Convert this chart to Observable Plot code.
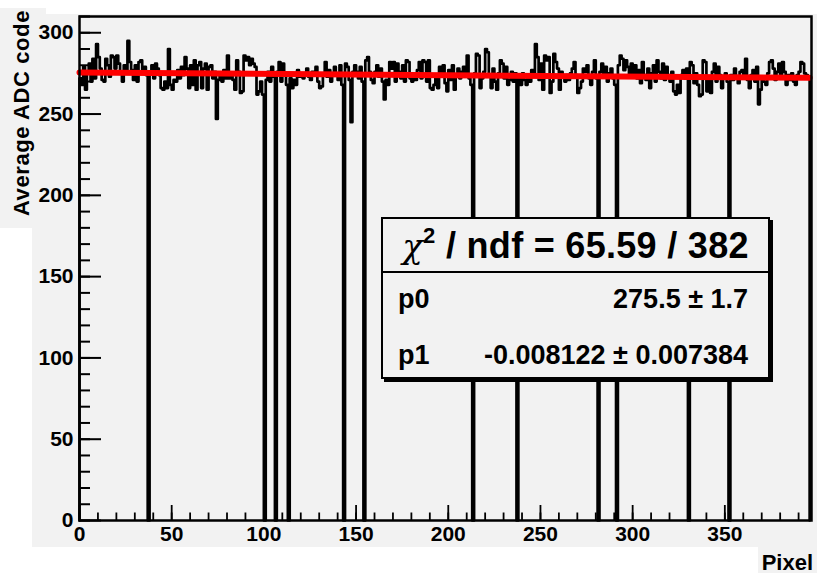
<!DOCTYPE html>
<html>
<head>
<meta charset="utf-8">
<script src="https://cdn.jsdelivr.net/npm/d3@7"></script>
<script src="https://cdn.jsdelivr.net/npm/@observablehq/plot@0.6"></script>
<style>
  html, body { margin: 0; padding: 0; background: #ffffff; }
  #wrap { position: relative; width: 830px; height: 586px; overflow: hidden; font-family: "Liberation Sans", Arial, Helvetica, sans-serif; }
  .bg { position: absolute; background: #f2f2f2; }
  #chart { position: absolute; left: 0; top: 0; }
  .ytitle { position: absolute; left: 9px; top: 224px; width: 214px; line-height: 26px; transform-origin: 0 0; transform: rotate(-90deg);
            text-align: right; font-weight: bold; font-size: 22px; letter-spacing: 0.6px; white-space: nowrap; color: #000; }
  .xtitle { position: absolute; right: 17px; top: 550px; font-weight: bold; font-size: 22px; color: #000; }
  .stats { position: absolute; left: 381px; top: 217px; width: 389px; height: 162px; box-sizing: border-box; border: 2px solid #000;
           background: #f2f2f2; box-shadow: 3px 3px 0 #000; color: #000; }
  .stats .head { height: 52px; border-bottom: 2px solid #000; text-align: center; font-weight: bold; font-size: 36px; line-height: 54px; white-space: nowrap; letter-spacing: 0.3px; }
  .stats .chi { font-weight: normal; font-family: "DejaVu Serif", serif; font-style: italic; font-size: 34px; }
  .stats sup { font-size: 22px; line-height: 0; position: relative; top: -2px; }
  .stats .row { position: absolute; left: 15px; right: 20px; height: 36px; font-weight: bold; font-size: 27px; line-height: 36px; white-space: nowrap; }
  .stats .row .v { position: absolute; right: 0; top: 0; }
</style>
</head>
<body>
<div id="wrap">
  <div class="bg" style="left:32px; top:14px; width:785px; height:533px;"></div>
  <div class="bg" style="left:0px; top:8px; width:46px; height:220px;"></div>
  <div class="bg" style="left:758px; top:547px; width:59px; height:26px;"></div>
  <div id="chart"></div>
  <div class="ytitle">Average ADC code</div>
  <div class="xtitle">Pixel</div>
  <div class="stats" id="stats"></div>
</div>
<script>
// ---- data ----
const adcValues = [
  272,268,279,265,276,281,270,284,272,293,285,278,271,270,284,280,273,286,285,278,
  286,281,275,270,280,276,295,282,277,271,280,270,282,283,276,279,274,0,276,280,
  272,281,278,274,266,265,270,266,290,268,265,271,270,277,272,279,274,285,278,266,
  280,268,283,265,280,282,266,278,281,265,279,280,272,276,247,271,274,270,277,272,
  286,272,274,271,265,283,276,263,264,286,283,285,280,284,281,279,262,264,270,262,
  0,271,276,270,279,273,0,276,282,270,281,274,268,0,272,266,271,268,277,273,
  275,272,274,278,273,271,276,274,279,270,266,267,275,282,273,277,270,275,279,274,
  271,280,268,0,281,279,271,245,276,280,276,272,279,270,0,283,285,276,271,269,
  276,280,273,278,270,259,271,268,282,278,282,270,281,276,272,280,270,283,282,272,
  270,274,271,277,282,272,283,282,270,283,266,265,268,272,266,279,274,280,269,264,
  277,271,280,265,273,278,272,276,279,274,286,272,268,0,275,287,286,266,272,276,
  290,288,274,266,278,270,265,275,283,281,272,279,268,271,276,270,275,0,272,268,
  275,271,268,273,270,277,273,293,285,271,281,265,286,283,285,263,270,287,282,278,
  265,276,273,270,274,271,275,278,282,274,263,266,270,278,276,280,272,268,276,283,
  272,0,276,281,274,279,270,275,278,272,268,0,280,286,284,277,283,279,273,281,
  275,280,272,277,269,282,274,271,278,266,275,280,270,283,276,272,281,271,279,274,
  270,276,264,262,268,263,274,277,272,278,0,282,280,269,275,268,261,262,283,282,
  264,271,263,276,281,270,279,274,266,272,275,270,0,274,271,278,273,269,276,277,
  272,284,271,266,274,277,270,279,256,265,273,270,268,275,282,283,278,271,276,281,
  272,282,276,268,274,271,275,270,268,274,276,282,281,275,274,272
];
const fitP0 = 275.5, fitP0Err = 1.7;
const fitP1 = -0.008122, fitP1Err = 0.007384;
const chi2 = 65.59, ndf = 382;
const xMajorTicks = [0, 50, 100, 150, 200, 250, 300, 350];
const xMinorTicks = d3.range(0, 400, 10);
const yMajorTicks = [0, 50, 100, 150, 200, 250, 300];
const yMinorTicks = d3.range(0, 311, 10);
const xDomain = [0, 397];
const yDomain = [0, 310];

// histogram outline (bin low edges, closed to zero at both ends)
const nBins = adcValues.length;
const histPoints = [{x: 0, y: 0}]
  .concat(adcValues.map((v, i) => ({x: i, y: v})))
  .concat([{x: nBins, y: adcValues[nBins - 1]}, {x: nBins, y: 0}]);
const fitPoints = [0, nBins].map(x => ({x, y: fitP0 + fitP1 * x}));

const font = {fontSize: 21, fontWeight: "bold"};
const chart = Plot.plot({
  width: 830,
  height: 586,
  marginLeft: 79,
  marginRight: 19,
  marginTop: 16,
  marginBottom: 66,
  style: {background: "transparent", fontFamily: "Liberation Sans, Arial, sans-serif", color: "#000", overflow: "visible"},
  x: {domain: xDomain, label: null},
  y: {domain: yDomain, label: null},
  marks: [
    Plot.line(histPoints, {x: "x", y: "y", curve: "step-after", stroke: "#000", strokeWidth: 2.7}),
    Plot.line(fitPoints, {x: "x", y: "y", stroke: "#ff0000", strokeWidth: 6}),
    Plot.axisX({ticks: xMinorTicks, tickSize: -7.5, fill: "none", strokeWidth: 1.8, label: null}),
    Plot.axisX({ticks: xMajorTicks, tickSize: -15, fill: "none", strokeWidth: 1.8, label: null}),
    Plot.axisX({ticks: xMajorTicks, tickSize: 0, tickPadding: 6, tickFormat: d => String(d), label: null, ...font}),
    Plot.axisY({ticks: yMinorTicks, tickSize: -11, fill: "none", strokeWidth: 2, label: null}),
    Plot.axisY({ticks: yMajorTicks, tickSize: -22, fill: "none", strokeWidth: 2, label: null}),
    Plot.axisY({ticks: yMajorTicks, tickSize: 0, tickPadding: 6, tickFormat: d => String(d), label: null, ...font}),
    Plot.frame({stroke: "#000", strokeWidth: 2.5})
  ]
});
document.getElementById("chart").appendChild(chart);

const stats = document.getElementById("stats");
stats.innerHTML =
  `<div class="head"><span class="chi">χ</span><sup>2</sup> / ndf = ${chi2.toFixed(2)} / ${ndf}</div>` +
  `<div class="row" style="top:62px"><span>p0</span><span class="v">${fitP0.toFixed(1)} ± ${fitP0Err.toFixed(1)}</span></div>` +
  `<div class="row" style="top:118px"><span>p1</span><span class="v">${fitP1.toFixed(6)} ± ${fitP1Err.toFixed(6)}</span></div>`;
</script>
</body>
</html>
